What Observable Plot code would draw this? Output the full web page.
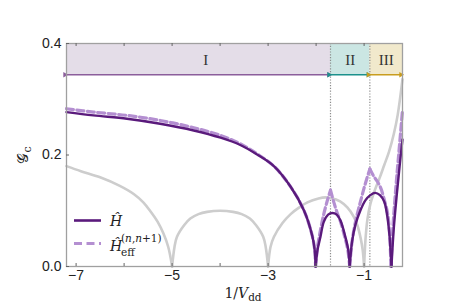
<!DOCTYPE html>
<html><head><meta charset="utf-8">
<script src="https://cdn.jsdelivr.net/npm/d3@7"></script>
<script src="https://cdn.jsdelivr.net/npm/@observablehq/plot@0.6"></script>
<style>body{margin:0;background:#fff}</style>
</head><body><div id="chart"></div>
<script>
// ---- data ----
const xDomain = [-7.2, -0.2];
const yDomain = [0, 0.4];
const xLabelTicks = [-7, -5, -3, -1];
const xAllTicks = [-7, -6, -5, -4, -3, -2, -1];
const yTicks = [0, 0.2, 0.4];
const regionNames = ["I", "II", "III"];
const regionStart = [-7.2, -1.70, -0.88];
const regionEnd = [-1.70, -0.88, -0.2];
const regionLabelX = [-4.3, -1.29, -0.54];
const regionFill = ["#e4dde8", "#cbe6e3", "#f1e9cc"];
const regionStroke = ["#8b5e9b", "#1c918c", "#c99d1f"];
const boundaries = [-1.70, -0.88];
const bandBottom = 0.344;

// gray curve (arcs between zeros)
const grayArcs = [
  [[-7.2,0.180],[-6.9,0.171],[-6.5,0.160],[-6.1,0.145],[-5.8,0.130],[-5.6,0.115],[-5.46,0.100],[-5.3,0.080],[-5.18,0.059],[-5.08,0.035],[-5.0,0.0]],
  [[-5.0,0.0],[-4.95,0.035],[-4.9,0.053],[-4.75,0.074],[-4.62,0.086],[-4.45,0.094],[-4.27,0.098],[-4.0,0.100],[-3.73,0.098],[-3.55,0.094],[-3.38,0.086],[-3.25,0.074],[-3.1,0.053],[-3.05,0.035],[-3.0,0.0]],
  [[-3.0,0.0],[-2.95,0.035],[-2.88,0.053],[-2.7,0.078],[-2.53,0.094],[-2.35,0.106],[-2.18,0.115],[-1.95,0.122],[-1.8,0.124],[-1.70,0.123],[-1.5,0.117],[-1.35,0.106],[-1.22,0.090],[-1.14,0.074],[-1.07,0.050],[-1.03,0.030],[-1.0,0.0]],
  [[-1.0,0.0],[-0.97,0.050],[-0.93,0.085],[-0.87,0.112],[-0.78,0.136],[-0.68,0.158],[-0.58,0.182],[-0.48,0.206],[-0.38,0.238],[-0.3,0.272],[-0.2,0.336]]
];
// H (solid)
const hArcs = [
  [[-7.2,0.277],[-6.64,0.271],[-5.94,0.265],[-5.25,0.256],[-4.55,0.244],[-3.99,0.231],[-3.58,0.218],[-3.23,0.201],[-2.88,0.180],[-2.53,0.143],[-2.25,0.100],[-2.08,0.055],[-2.03,0.030],[-2.01,0.0]],
  [[-2.01,0.0],[-1.97,0.030],[-1.91,0.053],[-1.84,0.080],[-1.75,0.093],[-1.66,0.096],[-1.57,0.093],[-1.49,0.082],[-1.39,0.053],[-1.33,0.030],[-1.30,0.0]],
  [[-1.30,0.0],[-1.25,0.045],[-1.18,0.075],[-1.08,0.100],[-0.97,0.119],[-0.87,0.128],[-0.77,0.132],[-0.67,0.128],[-0.58,0.116],[-0.52,0.092],[-0.47,0.055],[-0.45,0.030],[-0.43,0.0]],
  [[-0.43,0.0],[-0.38,0.070],[-0.32,0.128],[-0.26,0.180],[-0.2,0.228]]
];
// H_eff (dashed)
const heffArcs = [
  [[-7.2,0.283],[-6.64,0.277],[-5.94,0.271],[-5.25,0.262],[-4.55,0.249],[-3.99,0.235],[-3.58,0.220],[-3.23,0.202],[-2.88,0.180],[-2.53,0.143],[-2.25,0.100],[-2.08,0.055],[-2.03,0.030],[-2.01,0.0]],
  [[-2.01,0.0],[-1.97,0.035],[-1.91,0.065],[-1.84,0.094],[-1.77,0.117],[-1.70,0.137]],
  [[-1.70,0.137],[-1.63,0.115],[-1.56,0.096],[-1.49,0.080],[-1.40,0.052],[-1.34,0.030],[-1.30,0.0]],
  [[-1.30,0.0],[-1.25,0.045],[-1.18,0.080],[-1.08,0.115],[-0.98,0.147],[-0.88,0.175]],
  [[-0.88,0.175],[-0.80,0.162],[-0.72,0.152],[-0.65,0.140],[-0.58,0.120],[-0.51,0.095],[-0.47,0.060],[-0.44,0.0]],
  [[-0.44,0.0],[-0.40,0.070],[-0.34,0.140],[-0.27,0.210],[-0.2,0.280]]
];

// ---- build tables ----
const flat = arcs => arcs.flatMap((arc, i) => arc.map(([x, y]) => ({x, y, arc: i})));
const grayData = flat(grayArcs), hData = flat(hArcs), heffData = flat(heffArcs);
const regions = regionNames.map((name, i) => ({
  name, x1: regionStart[i], x2: regionEnd[i], lx: regionLabelX[i],
  y1: bandBottom, y2: yDomain[1], fill: regionFill[i], stroke: regionStroke[i]
}));

const W = 457, H = 305, mL = 66, mR = 55, mT = 43, mB = 39;
const innerW = W - mL - mR, innerH = H - mT - mB;
const frameColor = "#a0a0a0";

const plot = Plot.plot({
  width: W, height: H,
  marginLeft: mL, marginRight: mR, marginTop: mT, marginBottom: mB,
  style: {fontFamily: "'Liberation Sans', Arial, sans-serif", fontSize: "14px", color: "#222", background: "#fff"},
  x: {domain: xDomain},
  y: {domain: yDomain},
  marks: [
    Plot.rect(regions, {x1: "x1", x2: "x2", y1: "y1", y2: "y2", fill: "fill"}),
    Plot.ruleX(boundaries, {stroke: "#8c8c8c", strokeWidth: 1.2, strokeDasharray: "1.2,1.6"}),
    Plot.link(regions, {x1: "x1", x2: "x2", y1: "y1", y2: "y1", stroke: "stroke", strokeWidth: 1.6, markerStart: "arrow", markerEnd: "arrow"}),
    Plot.text(regions, {x: "lx", y: d => (d.y1 + d.y2) / 2, text: "name", fontFamily: "'Liberation Serif', 'Times New Roman', serif", fontSize: 15, fill: "#333", dy: 1}),
    Plot.line(grayData, {x: "x", y: "y", z: "arc", stroke: "#cdcdcd", strokeWidth: 2.6, curve: "catmull-rom"}),
    Plot.line(heffData, {x: "x", y: "y", z: "arc", stroke: "#b48fd1", strokeWidth: 3.2, strokeDasharray: "7,3.5", curve: "catmull-rom"}),
    Plot.line(hData, {x: "x", y: "y", z: "arc", stroke: "#5a1a7c", strokeWidth: 2.4, curve: "catmull-rom"}),
    Plot.frame({stroke: frameColor, strokeWidth: 1.3}),
    // inward ticks
    Plot.tickX(xAllTicks, {x: d => d, stroke: "#666", strokeWidth: 1, insetTop: innerH - 3}),
    Plot.tickX(xAllTicks, {x: d => d, stroke: "#666", strokeWidth: 1, insetBottom: innerH - 3}),
    Plot.tickY(yTicks, {y: d => d, stroke: "#666", strokeWidth: 1, insetRight: innerW - 3}),
    Plot.axisX({ticks: xLabelTicks, tickSize: 0, tickPadding: 4, tickFormat: d3.format("d"), label: null, fontSize: 14}),
    Plot.axisY({ticks: yTicks, tickSize: 0, tickPadding: 5, tickFormat: d3.format(".1f"), label: null, fontSize: 14})
  ]
});

// filled triangular arrowheads
const svg = d3.select(plot);
svg.selectAll("marker").each(function() {
  const m = d3.select(this);
  const c = m.attr("stroke");
  m.attr("fill", c).attr("stroke", "none");
  m.select("path").attr("d", "M-3,-2.6L1.5,0L-3,2.6Z");
});

// extra text (legend, axis labels)
const serif = "'DejaVu Serif', 'Liberation Serif', serif";
const g = svg.append("g").attr("font-family", serif).attr("fill", "#222").attr("text-anchor", "start");
// legend
g.append("line").attr("x1", 74).attr("x2", 101).attr("y1", 220.5).attr("y2", 220.5)
  .attr("stroke", "#5a1a7c").attr("stroke-width", 2.6);
g.append("line").attr("x1", 74).attr("x2", 101).attr("y1", 243.5).attr("y2", 243.5)
  .attr("stroke", "#b48fd1").attr("stroke-width", 3).attr("stroke-dasharray", "8,4.5");
g.append("text").attr("x", 110).attr("y", 226).attr("font-size", 14).attr("font-style", "italic").text("Ĥ");
const t2 = g.append("text").attr("x", 110).attr("y", 251).attr("font-size", 14);
t2.append("tspan").attr("font-style", "italic").text("Ĥ");
t2.append("tspan").attr("x", 121).attr("dy", 4.5).attr("font-size", 10.5).text("eff");
t2.append("tspan").attr("x", 121).attr("dy", -14).attr("font-size", 10.5).text("(");
t2.append("tspan").attr("font-size", 10.5).attr("font-style", "italic").text("n");
t2.append("tspan").attr("font-size", 10.5).text(",");
t2.append("tspan").attr("font-size", 10.5).attr("font-style", "italic").text("n");
t2.append("tspan").attr("font-size", 10.5).text("+1)");
// x label
const xl = g.append("text").attr("x", 243).attr("y", 298).attr("text-anchor", "middle").attr("font-size", 14);
xl.append("tspan").text("1/");
xl.append("tspan").attr("font-style", "italic").text("V");
xl.append("tspan").attr("font-size", 10.5).attr("dy", 3).text("dd");
// y label
const yl = g.append("text").attr("transform", "translate(28,155) rotate(-90)").attr("text-anchor", "middle").attr("font-size", 15);
yl.append("tspan").text("𝒢");
yl.append("tspan").attr("font-size", 11).attr("dy", 3).text("c");

document.getElementById("chart").appendChild(plot);
</script>
</body></html>
